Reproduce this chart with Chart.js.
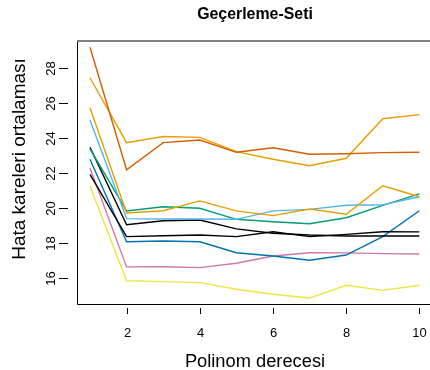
<!DOCTYPE html>
<html>
<head>
<meta charset="utf-8">
<script src="https://cdn.jsdelivr.net/npm/chart.js@4"></script>
<style>
  body { margin: 0; background: #fff; overflow: hidden; }
  #wrap { width: 430px; height: 370px; position: relative; }
</style>
</head>
<body>
<div id="wrap"><canvas id="lineChart"></canvas></div>
<script>
// polynomial degree on the x axis
const degrees = [1, 2, 3, 4, 5, 6, 7, 8, 9, 10];
const xTicks = [2, 4, 6, 8, 10];
const yTicks = [16, 18, 20, 22, 24, 26, 28];

// validation MSE for each run
const run1 = [29.2, 22.2, 23.75, 23.9, 23.2, 23.46, 23.09, 23.12, 23.18, 23.2];
const run2 = [27.46, 23.75, 24.1, 24.05, 23.24, 22.8, 22.43, 22.86, 25.12, 25.35];
const run3 = [25.75, 19.73, 19.86, 20.42, 19.85, 19.58, 19.96, 19.66, 21.29, 20.66];
const run4 = [25.05, 19.41, 19.39, 19.39, 19.37, 19.85, 19.94, 20.17, 20.2, 20.66];
const run5 = [23.4, 19.85, 20.09, 20.0, 19.37, 19.23, 19.12, 19.46, 20.17, 20.82];
const run6 = [23.49, 19.06, 19.29, 19.33, 18.82, 18.57, 18.47, 18.42, 18.42, 18.42];
const run7 = [21.94, 18.38, 18.43, 18.47, 18.38, 18.66, 18.38, 18.51, 18.66, 18.65];
const run8 = [22.8, 18.09, 18.13, 18.09, 17.46, 17.27, 17.03, 17.33, 18.38, 19.86];
const run9 = [22.3, 16.65, 16.66, 16.61, 16.86, 17.27, 17.46, 17.45, 17.41, 17.39];
const run10 = [21.27, 15.86, 15.81, 15.75, 15.37, 15.09, 14.87, 15.6, 15.31, 15.6];

const runs = [run1, run2, run3, run4, run5, run6, run7, run8, run9, run10];
const colors = ['#D55E00', '#E69F00', '#E69F00', '#56B4E9', '#009E73',
                '#000000', '#000000', '#0072B2', '#CC79A7', '#F0E442'];

const FONT = '"Liberation Sans", Arial, Helvetica, sans-serif';

// pick a font size so the text spans the given width
function fitFont(ctx, text, width, weight) {
  ctx.font = weight + '20px ' + FONT;
  const size = 20 * width / ctx.measureText(text).width;
  ctx.font = weight + size.toFixed(1) + 'px ' + FONT;
}

// R-style box, tick marks and labels drawn on top of the library's scales
const rAxes = {
  id: 'rAxes',
  afterDraw(chart) {
    const { ctx, chartArea: a, scales: { x, y } } = chart;
    ctx.save();
    ctx.strokeStyle = '#000';
    ctx.lineWidth = 1;
    ctx.beginPath();
    ctx.moveTo(a.left + 0.5, a.top);
    ctx.lineTo(a.left + 0.5, a.bottom + 0.5);
    ctx.lineTo(a.right, a.bottom + 0.5);
    ctx.stroke();
    ctx.strokeStyle = '#808080';
    ctx.lineWidth = 2;
    ctx.beginPath();
    ctx.moveTo(a.left, a.top);
    ctx.lineTo(a.right, a.top);
    ctx.stroke();

    ctx.strokeStyle = '#000';
    ctx.lineWidth = 1;
    ctx.fillStyle = '#000';
    ctx.font = '13px ' + FONT;
    ctx.textAlign = 'center';
    ctx.textBaseline = 'alphabetic';
    xTicks.forEach(v => {
      const px = Math.round(x.getPixelForValue(v)) + 0.5;
      ctx.beginPath();
      ctx.moveTo(px, a.bottom + 4);
      ctx.lineTo(px, a.bottom + 10);
      ctx.stroke();
      ctx.fillText(String(v), px, 337);
    });
    yTicks.forEach(v => {
      const py = Math.round(y.getPixelForValue(v)) + 0.5;
      ctx.beginPath();
      ctx.moveTo(59, py);
      ctx.lineTo(68, py);
      ctx.stroke();
      ctx.save();
      ctx.translate(55, py);
      ctx.rotate(-Math.PI / 2);
      ctx.fillText(String(v), 0, 0);
      ctx.restore();
    });

    fitFont(ctx, 'Geçerleme-Seti', 116, 'bold ');
    ctx.textBaseline = 'middle';
    ctx.fillText('Geçerleme-Seti', 255, 15);

    ctx.textBaseline = 'alphabetic';
    fitFont(ctx, 'Polinom derecesi', 140, '');
    ctx.fillText('Polinom derecesi', 255, 367);
    fitFont(ctx, 'Hata kareleri ortalaması', 202, '');
    ctx.save();
    ctx.translate(25, 159);
    ctx.rotate(-Math.PI / 2);
    ctx.fillText('Hata kareleri ortalaması', 0, 0);
    ctx.restore();
    ctx.restore();
  }
};

new Chart(document.getElementById('lineChart'), {
  type: 'line',
  data: {
    labels: degrees,
    datasets: runs.map((r, i) => ({
      data: r.map((v, j) => ({ x: degrees[j], y: v })),
      borderColor: colors[i],
      borderWidth: 1.4,
      pointRadius: 0,
      tension: 0,
      fill: false
    }))
  },
  options: {
    responsive: true,
    maintainAspectRatio: false,
    animation: false,
    layout: { padding: { top: 41, left: 0, right: 0, bottom: 0 } },
    plugins: {
      legend: { display: false },
      title: { display: false },
      tooltip: { enabled: false }
    },
    scales: {
      x: {
        type: 'linear',
        min: 0.645,
        max: 10.29,
        grid: { display: false },
        border: { display: false },
        ticks: { display: false, includeBounds: false },
        afterFit: s => { s.height = 66; }
      },
      y: {
        min: 14.53,
        max: 29.56,
        grid: { display: false },
        border: { display: false },
        ticks: { display: false, includeBounds: false },
        afterFit: s => { s.width = 77; }
      }
    }
  },
  plugins: [rAxes]
});
</script>
</body>
</html>
